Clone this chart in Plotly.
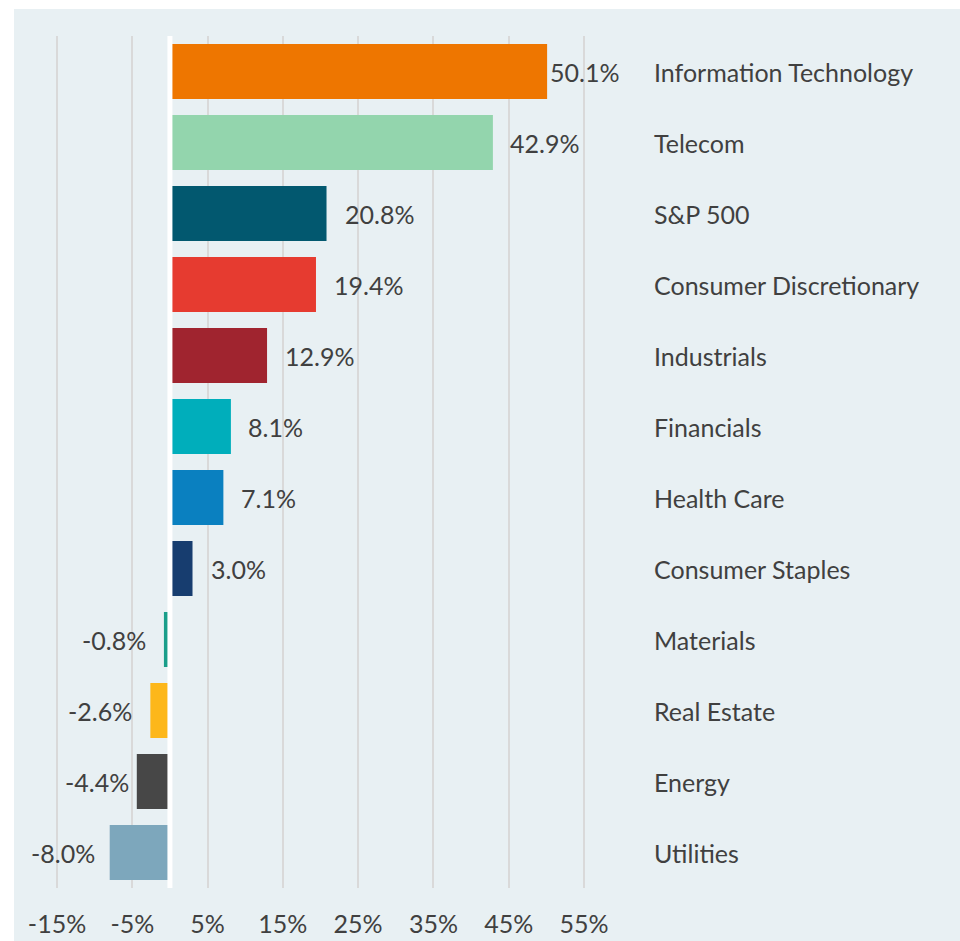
import plotly.graph_objects as go

categories = ["Information Technology", "Telecom", "S&P 500", "Consumer Discretionary",
              "Industrials", "Financials", "Health Care", "Consumer Staples",
              "Materials", "Real Estate", "Energy", "Utilities"]
returns = [50.1, 42.9, 20.8, 19.4, 12.9, 8.1, 7.1, 3.0, -0.8, -2.6, -4.4, -8.0]
bar_colors = ["#EE7600", "#93D5AD", "#02586F", "#E63B30", "#A0242F", "#00AEBB",
              "#0A80C0", "#173D6F", "#1A9E8A", "#FDB71A", "#474747", "#7DA7BC"]
tick_vals = [-15, -5, 5, 15, 25, 35, 45, 55]
tick_text = ["-15%", "-5%", "5%", "15%", "25%", "35%", "45%", "55%"]
label_gap = [1, 15, 16, 16, 16, 15, 16, 16, 16, 16, 6, 13]

BG = "#E8F0F3"
TXT = "#404040"
FONT = "Lato, 'Open Sans', sans-serif"
FS = 25

W, H = 960, 941
L, PR = 20, 624          # plot area left/right px
T, PB = 36, 888          # plot area top/bottom px
px57, px584 = 57, 584    # pixel positions of -15% and 55%
s = (px584 - px57) / 70.0
xmin = -15 - (px57 - L) / s
xmax = 55 + (PR - px584) / s

fig = go.Figure()
fig.add_trace(go.Bar(
    y=categories, x=returns, orientation="h",
    marker=dict(color=bar_colors, line=dict(width=0)),
    hoverinfo="skip",
))

annotations = []
for cat, v, g in zip(categories, returns, label_gap):
    annotations.append(dict(
        x=v, y=cat, xref="x", yref="y", text=f"{v:.1f}%", showarrow=False,
        xanchor="left" if v >= 0 else "right", yanchor="middle",
        xshift=g if v >= 0 else -g,
        font=dict(family=FONT, size=FS, color=TXT),
    ))
    annotations.append(dict(
        x=1, y=cat, xref="paper", yref="y", text=cat, showarrow=False,
        xanchor="left", yanchor="middle", xshift=652 - PR,
        font=dict(family=FONT, size=FS, color=TXT),
    ))

pw = PR - L
ph = PB - T
shapes = [
    dict(type="rect", xref="paper", yref="paper", layer="below",
         x0=(14 - L) / pw, x1=(W + 10 - L) / pw,
         y0=-(H + 10 - PB) / ph, y1=(PB - 9) / ph,
         fillcolor=BG, line=dict(width=0)),
    dict(type="line", xref="x", yref="paper", layer="above",
         x0=0, x1=0, y0=0, y1=1, line=dict(color="white", width=5)),
]

fig.update_layout(
    width=W, height=H,
    margin=dict(l=L, r=W - PR, t=T, b=H - PB, pad=0, autoexpand=False),
    paper_bgcolor="white", plot_bgcolor=BG,
    showlegend=False, bargap=16 / 71,
    font=dict(family=FONT, size=FS, color=TXT),
    xaxis=dict(range=[xmin, xmax], tickvals=tick_vals, ticktext=tick_text,
               showgrid=True, gridcolor="#D9D9D9", gridwidth=2,
               zeroline=False, showline=False, automargin=False,
               ticks="outside", ticklen=14, tickcolor="rgba(0,0,0,0)",
               tickfont=dict(family=FONT, size=FS, color=TXT)),
    yaxis=dict(autorange="reversed", showticklabels=False, showgrid=False,
               zeroline=False, showline=False, ticks="", automargin=False),
    annotations=annotations, shapes=shapes,
)

fig.write_html(
    "out.html",
    config={"displayModeBar": False},
    post_script="document.body.style.margin='0';document.body.style.overflow='hidden';",
)
